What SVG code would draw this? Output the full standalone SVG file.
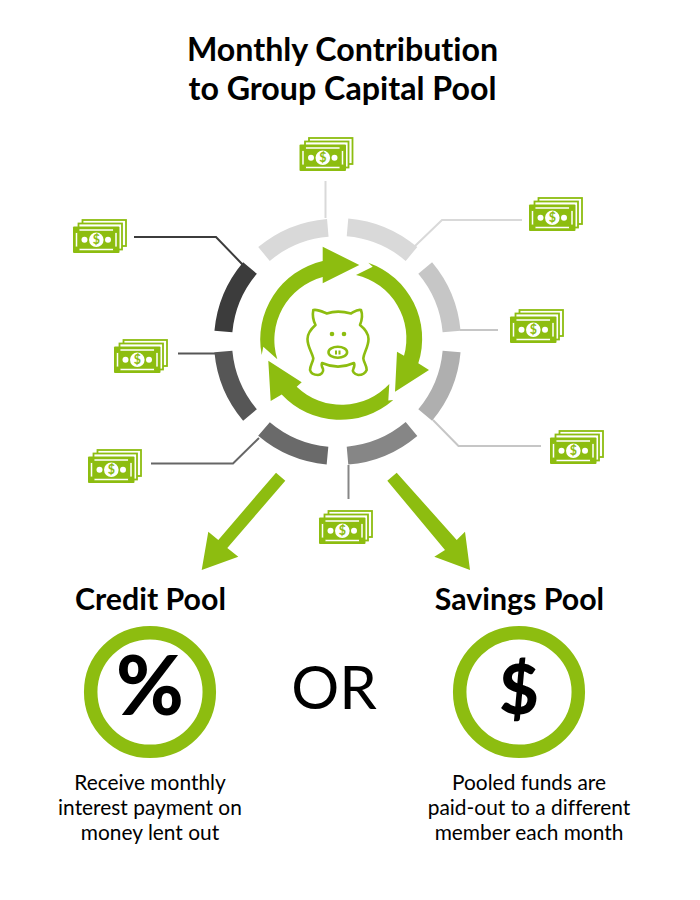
<svg xmlns="http://www.w3.org/2000/svg" width="700" height="900" viewBox="0 0 700 900">
<style>
text{font-family:Lato,"Liberation Sans",sans-serif;fill:#000;text-anchor:middle;font-variant-ligatures:none}
.title{font-size:32.200px;font-weight:700}
.head{font-size:30.300px;font-weight:700}
.body{font-size:20.900px}
.or{font-size:60px}
.sym{font-weight:900}
.g{fill:#8dbd10}
.seg{fill:none;stroke-width:18}
.line{fill:none;stroke-width:2}
.ring{fill:none;stroke:#8dbd10;stroke-width:13.5}
.pig{fill:none;stroke:#8dbd10;stroke-width:2.600;stroke-linejoin:round}
</style>
<defs>
<g id="bill">
<rect x="9.500" y="1" width="43.500" height="26" fill="none" stroke="#8dbd10" stroke-width="1.800"/>
<rect x="5.500" y="4.500" width="43.500" height="26" fill="#fff" stroke="#8dbd10" stroke-width="1.800"/>
<rect x="0" y="7.500" width="46.500" height="26.500" rx="1" fill="#8dbd10"/>
<rect x="3.500" y="11" width="39.500" height="19.500" fill="none" stroke="#fff" stroke-width="1.500"/>
<circle cx="3.500" cy="11" r="3" fill="#8dbd10"/>
<circle cx="43" cy="11" r="3" fill="#8dbd10"/>
<circle cx="3.500" cy="30.500" r="3" fill="#8dbd10"/>
<circle cx="43" cy="30.500" r="3" fill="#8dbd10"/>
<circle cx="23.300" cy="20.800" r="7.300" fill="#fff"/>
<circle cx="11.500" cy="20.800" r="3" fill="#fff"/>
<circle cx="35" cy="20.800" r="3" fill="#fff"/>
<text x="23.300" y="25.300" style="font-size:12.500px;font-weight:700;fill:#8dbd10">$</text>
</g>
</defs>
<g id="title">
<text class="title" x="342.500" y="61">Monthly Contribution</text>
<text class="title" x="342.500" y="100">to Group Capital Pool</text>
</g>
<g id="connectors">
<path class="line" stroke="#d9d9d9" d="M325.500 181V218"/>
<path class="line" stroke="#d9d9d9" d="M415 246L442 220H522"/>
<path class="line" stroke="#c6c6c6" d="M460 330H498"/>
<path class="line" stroke="#c6c6c6" d="M433 420L458.500 446H541"/>
<path class="line" stroke="#868686" d="M348.500 465V499"/>
<path class="line" stroke="#666" d="M259 438L233 463.500H151"/>
<path class="line" stroke="#565656" d="M178 353.500H215"/>
<path class="line" stroke="#3c3c3c" d="M134 237H216L243 265"/>
<path class="g" d="M276 472.700L285.300 480.700L227.300 548L238.300 556.700L201.700 570L208.300 531.700L218.300 540Z"/>
<path class="g" d="M396.700 472.700L387.300 480.700L445 550L434.300 556.700L470 570L465 531.700L456.700 540Z"/>
</g>
<g id="ring">
<path class="seg" stroke="#d9d9d9" d="M327.800 227.900A114.500 114.500 0 0 0 264 254"/>
<path class="seg" stroke="#d9d9d9" d="M347.500 227.400A114.500 114.500 0 0 1 411.500 254"/>
<path class="seg" stroke="#c6c6c6" d="M425.200 268A114.500 114.500 0 0 1 451.600 331.500"/>
<path class="seg" stroke="#afafaf" d="M451.600 351.500A114.500 114.500 0 0 1 425.200 415"/>
<path class="seg" stroke="#868686" d="M411.500 429A114.500 114.500 0 0 1 347.500 455.600"/>
<path class="seg" stroke="#6a6a6a" d="M327.500 455.600A114.500 114.500 0 0 1 264 429"/>
<path class="seg" stroke="#565656" d="M250 415A114.500 114.500 0 0 1 223.400 351.500"/>
<path class="seg" stroke="#3c3c3c" d="M223.400 331.500A114.500 114.500 0 0 1 250 268"/>
</g>
<g id="cycle">
<path class="g" d="M263.300 346.700L261.700 355A80.500 80.500 0 0 1 322.700 261.100V246.700L359.300 265L322.700 283.300V277.100A65 65 0 0 0 277.300 359.300Z"/>
<path class="g" d="M356 275L372.700 266.700L368.300 262.700A80.500 80.500 0 0 1 418.300 363.300L429 370L395 391.700L397 351.700L404 355.800A65 65 0 0 0 356 275Z"/>
<path class="g" d="M393.300 400L388.300 400.500L389.300 384A65 65 0 0 1 296.700 386.700L301.700 382.300L268.300 360.700L270.700 401L281.700 394.500A80.500 80.500 0 0 0 393.300 400Z"/>
</g>
<g id="piggy">
<path class="pig" d="M313.300 310C318 309 323 312 326.700 313.500C334 311 342 311 351 313.500C354 312 357 309 361 310C362.500 314 362 320 360 325C365 329 368.500 333 368.500 339C368.500 347 364 352 363.300 358.300C363.500 362 367 366 366.700 370C365 374 361 375 358.300 375C354 374.500 352 371 353.300 369C354.500 366 355 365 354 363C344 367.500 332 367.500 322 363C321 365 322 367 323 369C324 372 321 375 318 375C315 375 311 374 310 370C310 366 313 362 313.300 358.300C312 352 307.500 347 307.500 339C307.500 333 311 329 315.500 325C313 320 312.500 314 313.300 310Z"/>
<ellipse class="pig" cx="337.800" cy="352.300" rx="9.300" ry="5.500"/>
<circle class="g" cx="332" cy="334" r="2.300"/>
<circle class="g" cx="344" cy="334" r="2.300"/>
<rect class="g" x="335" y="350.500" width="2" height="4"/>
<rect class="g" x="338.500" y="350.500" width="2" height="4"/>
</g>
<g id="bill-top"><use href="#bill" x="299.500" y="137"/></g>
<g id="bill-top-right"><use href="#bill" x="529" y="197"/></g>
<g id="bill-right"><use href="#bill" x="510" y="309"/></g>
<g id="bill-lower-right"><use href="#bill" x="550" y="430"/></g>
<g id="bill-bottom"><use href="#bill" x="319" y="510"/></g>
<g id="bill-lower-left"><use href="#bill" x="88" y="449"/></g>
<g id="bill-left"><use href="#bill" x="114" y="339"/></g>
<g id="bill-top-left"><use href="#bill" x="73" y="219"/></g>
<g id="credit">
<text class="head" x="150.500" y="610">Credit Pool</text>
<circle class="ring" cx="150" cy="692" r="59.300"/>
<text class="sym" x="150" y="715" style="font-size:82px">%</text>
<text class="body" x="150" y="790">Receive monthly</text>
<text class="body" x="150" y="815">interest payment on</text>
<text class="body" x="150" y="840">money lent out</text>
</g>
<g id="or"><text class="or" x="334" y="709">OR</text></g>
<g id="savings">
<text class="head" x="519.500" y="610">Savings Pool</text>
<circle class="ring" cx="519" cy="692" r="59.300"/>
<text class="sym" x="519" y="714" style="font-size:68px">$</text>
<text class="body" x="529" y="790">Pooled funds are</text>
<text class="body" x="529" y="815">paid-out to a different</text>
<text class="body" x="529" y="840">member each month</text>
</g>
</svg>
